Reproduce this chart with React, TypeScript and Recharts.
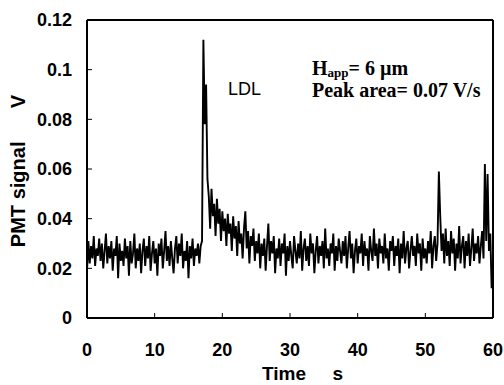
import React from 'react';
import { LineChart, Line, XAxis, YAxis } from 'recharts';

// sample interval of the recorded trace (s)
const SAMPLE_STEP = 0.2;

// PMT signal (V), one value per sample
const signal: number[] = [
  0.019, 0.031, 0.022, 0.029, 0.024, 0.033, 0.021, 0.028, 0.025, 0.032,
  0.023, 0.030, 0.020, 0.027, 0.034, 0.022, 0.029, 0.024, 0.031, 0.019,
  0.028, 0.025, 0.033, 0.016, 0.030, 0.023, 0.027, 0.021, 0.032, 0.024,
  0.029, 0.017, 0.031, 0.022, 0.026, 0.034, 0.020, 0.028, 0.023, 0.030,
  0.018, 0.027, 0.032, 0.021, 0.029, 0.024, 0.033, 0.019, 0.026, 0.031,
  0.022, 0.028, 0.017, 0.030, 0.025, 0.032, 0.020, 0.027, 0.035, 0.023,
  0.029, 0.021, 0.031, 0.024, 0.018, 0.028, 0.033, 0.022, 0.030, 0.025,
  0.034, 0.020, 0.027, 0.023, 0.031, 0.016, 0.029, 0.024, 0.032, 0.021,
  0.028, 0.025, 0.030, 0.022, 0.029, 0.031, 0.112, 0.078, 0.094, 0.056,
  0.049, 0.036, 0.052, 0.041, 0.046, 0.033, 0.048, 0.038, 0.044, 0.031,
  0.043, 0.035, 0.040, 0.029, 0.042, 0.034, 0.038, 0.027, 0.041, 0.032,
  0.037, 0.025, 0.039, 0.030, 0.034, 0.024, 0.036, 0.043, 0.028, 0.035,
  0.022, 0.033, 0.029, 0.036, 0.023, 0.031, 0.026, 0.034, 0.020, 0.030,
  0.025, 0.032, 0.019, 0.029, 0.038, 0.023, 0.031, 0.026, 0.033, 0.018,
  0.028, 0.024, 0.032, 0.021, 0.030, 0.026, 0.034, 0.017, 0.029, 0.023,
  0.031, 0.025, 0.020, 0.033, 0.027, 0.022, 0.030, 0.024, 0.035, 0.019,
  0.028, 0.032, 0.023, 0.029, 0.021, 0.034, 0.026, 0.030, 0.018, 0.027,
  0.033, 0.022, 0.029, 0.025, 0.031, 0.020, 0.036, 0.024, 0.028, 0.021,
  0.030, 0.026, 0.034, 0.019, 0.029, 0.023, 0.032, 0.027, 0.022, 0.031,
  0.025, 0.033, 0.020, 0.028, 0.035, 0.024, 0.030, 0.018, 0.027, 0.032,
  0.022, 0.029, 0.026, 0.034, 0.021, 0.031, 0.025, 0.028, 0.019, 0.033,
  0.027, 0.023, 0.036, 0.025, 0.030, 0.020, 0.032, 0.026, 0.029, 0.022,
  0.034, 0.024, 0.028, 0.019, 0.031, 0.027, 0.033, 0.021, 0.029, 0.025,
  0.032, 0.018, 0.030, 0.024, 0.035, 0.022, 0.028, 0.031, 0.020, 0.027,
  0.033, 0.025, 0.029, 0.021, 0.034, 0.026, 0.030, 0.019, 0.032, 0.024,
  0.028, 0.022, 0.031, 0.026, 0.035, 0.020, 0.029, 0.033, 0.023, 0.030,
  0.059, 0.041, 0.027, 0.034, 0.022, 0.036, 0.025, 0.031, 0.021, 0.035,
  0.026, 0.032, 0.019, 0.030, 0.024, 0.037, 0.022, 0.029, 0.033, 0.020,
  0.031, 0.025, 0.034, 0.021, 0.028, 0.036, 0.023, 0.030, 0.026, 0.033,
  0.022, 0.029, 0.035, 0.024, 0.062, 0.031, 0.058, 0.027, 0.034, 0.012,
  0.021,
];

const xTicks = [0, 10, 20, 30, 40, 50, 60];
const yTicks = [0, 0.02, 0.04, 0.06, 0.08, 0.1, 0.12];

const data = signal.map((v, i) => ({ t: Math.round(i * SAMPLE_STEP * 10) / 10, v }));

const tickFont = {
  fontFamily: '"Liberation Sans", Arial, sans-serif',
  fontWeight: 700,
  fontSize: 18,
  fill: '#000',
};

const axisLine = { stroke: '#000', strokeWidth: 2 };

export default function App() {
  return (
    <div style={{ position: 'absolute', left: 0, top: 0, width: 504, height: 385, background: '#fff' }}>
      <LineChart width={504} height={385} data={data} margin={{ top: 19, right: 10, bottom: 0, left: 0 }}>
        <XAxis
          xAxisId="b"
          dataKey="t"
          type="number"
          domain={[0, 60]}
          ticks={xTicks}
          interval={0}
          height={67}
          tickSize={-5}
          tickMargin={30}
          tick={tickFont}
          axisLine={axisLine}
          tickLine={{ stroke: '#000', strokeWidth: 1 }}
          allowDataOverflow
        />
        <XAxis
          xAxisId="top"
          orientation="top"
          type="number"
          domain={[0, 60]}
          ticks={xTicks}
          interval={0}
          height={1}
          tickSize={-4}
          tick={false}
          axisLine={axisLine}
          tickLine={{ stroke: '#000', strokeWidth: 1 }}
          allowDataOverflow
        />
        <YAxis
          yAxisId="l"
          type="number"
          domain={[0, 0.12]}
          ticks={yTicks}
          interval={0}
          width={87}
          tickSize={-5}
          tickMargin={20}
          tick={tickFont}
          axisLine={axisLine}
          tickLine={{ stroke: '#000', strokeWidth: 1 }}
          allowDataOverflow
        />
        <YAxis
          yAxisId="r"
          orientation="right"
          type="number"
          domain={[0, 0.12]}
          ticks={yTicks}
          interval={0}
          width={1}
          tickSize={-4}
          tick={false}
          axisLine={axisLine}
          tickLine={{ stroke: '#000', strokeWidth: 1 }}
          allowDataOverflow
        />
        <Line
          xAxisId="b"
          yAxisId="l"
          type="linear"
          dataKey="v"
          stroke="#000"
          strokeWidth={1.9}
          dot={false}
          isAnimationActive={false}
        />
      </LineChart>

      {/* y axis title */}
      <div
        style={{
          position: 'absolute',
          left: 17.5,
          top: 171,
          transform: 'translate(-50%, -50%) rotate(-90deg)',
          fontFamily: '"Liberation Sans", Arial, sans-serif',
          fontWeight: 700,
          fontSize: 20,
          lineHeight: '20px',
          whiteSpace: 'pre',
          color: '#000',
        }}
      >
        {'PMT signal      V'}
      </div>

      {/* x axis title */}
      <div
        style={{
          position: 'absolute',
          left: 262,
          top: 364,
          fontFamily: '"Liberation Sans", Arial, sans-serif',
          fontWeight: 700,
          fontSize: 19,
          lineHeight: '19px',
          whiteSpace: 'pre',
          color: '#000',
        }}
      >
        {'Time     s'}
      </div>

      {/* annotations */}
      <div
        style={{
          position: 'absolute',
          left: 228,
          top: 80,
          fontFamily: '"Liberation Sans", Arial, sans-serif',
          fontSize: 18,
          lineHeight: '18px',
          whiteSpace: 'pre',
          color: '#000',
        }}
      >
        LDL
      </div>
      <div
        style={{
          position: 'absolute',
          left: 312,
          top: 59,
          fontFamily: '"Liberation Serif", "Times New Roman", serif',
          fontWeight: 700,
          fontSize: 20,
          lineHeight: '18px',
          height: 18,
          whiteSpace: 'pre',
          color: '#000',
        }}
      >
        H<span style={{ fontSize: 13, lineHeight: '13px', position: 'relative', top: 2 }}>app</span>
        {'= 6 µm'}
      </div>
      <div
        style={{
          position: 'absolute',
          left: 312,
          top: 81,
          fontFamily: '"Liberation Serif", "Times New Roman", serif',
          fontWeight: 700,
          fontSize: 20,
          lineHeight: '18px',
          whiteSpace: 'pre',
          color: '#000',
        }}
      >
        {'Peak area= 0.07 V/s'}
      </div>
    </div>
  );
}
